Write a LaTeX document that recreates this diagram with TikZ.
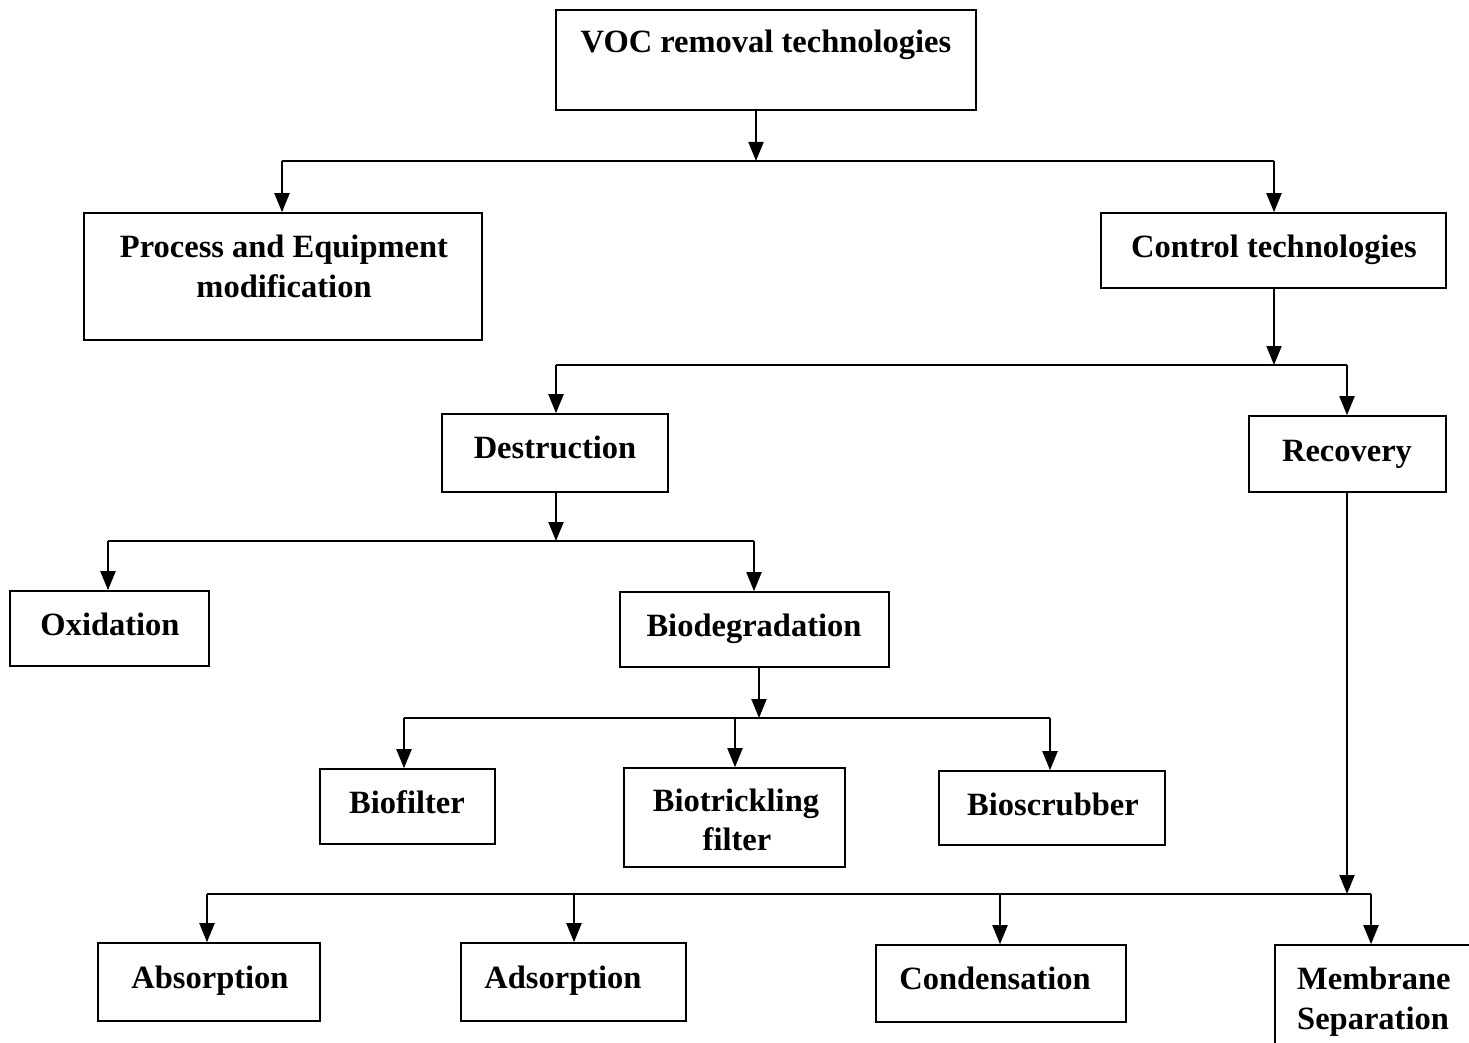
\documentclass[tikz,border=0pt]{standalone}
\usepackage{fontspec}
\setmainfont{Liberation Serif}
\usetikzlibrary{arrows.meta}
\begin{document}
\begin{tikzpicture}[x=1pt,y=-1pt,
  box/.style={draw, line width=1.6pt, rectangle, inner sep=0pt},
  lbl/.style={anchor=base, inner sep=0pt, font=\fontsize{32.5}{40}\selectfont\bfseries},
  lblL/.style={anchor=base west, inner sep=0pt, font=\fontsize{32.5}{40}\selectfont\bfseries},
  wire/.style={line width=2pt},
  arr/.style={line width=2pt, -{Triangle[width=15pt,length=19pt]}}]
\useasboundingbox (0,0) rectangle (1469,1043);
\clip (0,0) rectangle (1469,1043);
\fill[white] (0,0) rectangle (1469,1043);

% boxes
\node[box, minimum width=420pt, minimum height=100pt] (voc) at (766,60) {};
\node[box, minimum width=398pt, minimum height=127pt] (proc) at (283,276.5) {};
\node[box, minimum width=345pt, minimum height=75pt] (ctrl) at (1273.5,250.5) {};
\node[box, minimum width=226pt, minimum height=78pt] (dest) at (555,453) {};
\node[box, minimum width=197pt, minimum height=76pt] (reco) at (1347.5,454) {};
\node[box, minimum width=199pt, minimum height=75pt] (oxid) at (109.5,628.5) {};
\node[box, minimum width=269pt, minimum height=75pt] (biod) at (754.5,629.5) {};
\node[box, minimum width=175pt, minimum height=75pt] (bfil) at (407.5,806.5) {};
\node[box, minimum width=221pt, minimum height=99pt] (btri) at (734.5,817.5) {};
\node[box, minimum width=226pt, minimum height=74pt] (bscr) at (1052,808) {};
\node[box, minimum width=222pt, minimum height=78pt] (absr) at (209,982) {};
\node[box, minimum width=225pt, minimum height=78pt] (adsr) at (573.5,982) {};
\node[box, minimum width=250pt, minimum height=77pt] (cond) at (1001,983.5) {};
\node[box, minimum width=220pt, minimum height=140pt] (memb) at (1385,1015) {};

% labels
\node[lbl] (vocT) at (766,53) {VOC removal technologies};
\node[lbl] (procT1) at (284,257) {Process and Equipment};
\node[lbl] (procT2) at (284,297) {modification};
\node[lbl] (ctrlT) at (1274,257) {Control technologies};
\node[lbl] (destT) at (555,458) {Destruction};
\node[lbl] (recoT) at (1347,461) {Recovery};
\node[lbl] (oxidT) at (110,635) {Oxidation};
\node[lbl] (biodT) at (754,636) {Biodegradation};
\node[lbl] (bfilT) at (407,813) {Biofilter};
\node[lbl] (btriT1) at (736,811) {Biotrickling};
\node[lbl] (btriT2) at (737,850) {filter};
\node[lbl] (bscrT) at (1053,815) {Bioscrubber};
\node[lbl] (absrT) at (210,988) {Absorption};
\node[lbl] (adsrT) at (563,988) {Adsorption};
\node[lbl] (condT) at (995,989) {Condensation};
\node[lblL] (membT1) at (1297,989) {Membrane};
\node[lblL] (membT2) at (1297,1029) {Separation};

% junctions
\coordinate (j1) at (756,161);
\coordinate (j2) at (1274,365);
\coordinate (j3) at (556,541);
\coordinate (j4) at (759,718);
\coordinate (j5) at (1347,894);
% drop columns
\coordinate (xProc) at (282,0);
\coordinate (xCtrl) at (1274,0);
\coordinate (xDest) at (556,0);
\coordinate (xReco) at (1347,0);
\coordinate (xOxid) at (108,0);
\coordinate (xBiod) at (754,0);
\coordinate (xBfil) at (404,0);
\coordinate (xBtri) at (735,0);
\coordinate (xBscr) at (1050,0);
\coordinate (xAbsr) at (207,0);
\coordinate (xAdsr) at (574,0);
\coordinate (xCond) at (1000,0);
\coordinate (xMemb) at (1371,0);

% connectors
\draw[arr] (voc.south -| j1) -- (j1);
\draw[wire] (j1 -| xProc) -- (j1 -| xCtrl);
\draw[arr] (j1 -| xProc) -- (proc.north -| xProc);
\draw[arr] (j1 -| xCtrl) -- (ctrl.north -| xCtrl);

\draw[arr] (ctrl.south -| j2) -- (j2);
\draw[wire] (j2 -| xDest) -- (j2 -| xReco);
\draw[arr] (j2 -| xDest) -- (dest.north -| xDest);
\draw[arr] (j2 -| xReco) -- (reco.north -| xReco);

\draw[arr] (dest.south -| j3) -- (j3);
\draw[wire] (j3 -| xOxid) -- (j3 -| xBiod);
\draw[arr] (j3 -| xOxid) -- (oxid.north -| xOxid);
\draw[arr] (j3 -| xBiod) -- (biod.north -| xBiod);

\draw[arr] (biod.south -| j4) -- (j4);
\draw[wire] (j4 -| xBfil) -- (j4 -| xBscr);
\draw[arr] (j4 -| xBfil) -- (bfil.north -| xBfil);
\draw[arr] (j4 -| xBtri) -- (btri.north -| xBtri);
\draw[arr] (j4 -| xBscr) -- (bscr.north -| xBscr);

\draw[arr] (reco.south -| j5) -- (j5);
\draw[wire] (j5 -| xAbsr) -- (j5 -| xMemb);
\draw[arr] (j5 -| xAbsr) -- (absr.north -| xAbsr);
\draw[arr] (j5 -| xAdsr) -- (adsr.north -| xAdsr);
\draw[arr] (j5 -| xCond) -- (cond.north -| xCond);
\draw[arr] (j5 -| xMemb) -- (memb.north -| xMemb);
\end{tikzpicture}
\end{document}
